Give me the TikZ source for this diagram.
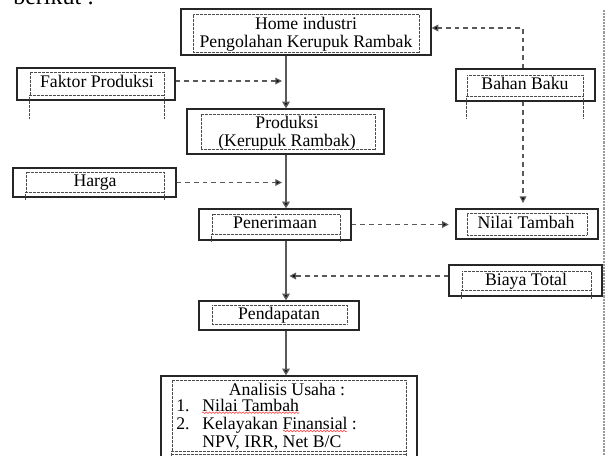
\documentclass[tikz,border=0pt]{standalone}
\usepackage{fontspec}
\setmainfont{Liberation Serif}
\usetikzlibrary{arrows.meta,fit,decorations.pathmorphing}
\begin{document}
\begin{tikzpicture}[x=0.75pt,y=-0.75pt,
  outerbox/.style={draw=black!85, line width=0.9pt, inner sep=0pt},
  innerbox/.style={draw=black!70, line width=0.5pt, dash pattern=on 0.5pt off 0.5pt, inner sep=0pt},
  dotline/.style={draw=black!70, line width=0.5pt, dash pattern=on 0.5pt off 0.5pt},
  txt/.style={font=\fontsize{13.3}{13.6}\selectfont, inner sep=0pt, align=center},
  ltxt/.style={txt, text height=9pt, text depth=2.5pt},
  mainarr/.style={draw=black!65, line width=1.1pt, -{Triangle[length=5pt,width=5.5pt,fill=black]}},
  dasharr/.style={draw=black!65, line width=0.9pt, dash pattern=on 3.5pt off 3pt, -{Triangle[length=5pt,width=5pt,fill=black]}},
  edgeline/.style={draw=black!40, line width=1.3pt, dash pattern=on 0.6pt off 0.5pt},
  spell/.style={draw=red!80, line width=0.4pt, decorate, decoration={snake, amplitude=0.6pt, segment length=2.5pt}}
]
\useasboundingbox (0,0) rectangle (605,455);
\clip (0,0) rectangle (605,455);

% clipped heading text (cut off at the top edge, as in the reference)
\node[anchor=base west, inner sep=0pt, font=\fontsize{18}{20}\selectfont] (berikut) at (13,4) {berikut :};

% right page edge
\coordinate (edgetop) at (604,10);
\coordinate (edgebot) at (604,455);
\draw[edgeline] (edgetop) -- (edgebot);

\coordinate (spine) at (286,0);

% Home industri
\node[outerbox, fit={(181,9) (431,55)}] (home) {};
\node[innerbox, fit={(193,14) (419,52)}] (homein) {};
\node[txt] (hometxt) at (306,34) {Home industri\\Pengolahan Kerupuk Rambak};

% Faktor Produksi
\node[outerbox, fit={(17,68) (175,100)}] (faktor) {};
\node[innerbox, fit={(30,72) (164,95)}] (faktorin) {};
\draw[dotline] (faktorin.south west) -- ++(0,23);
\draw[dotline] (faktorin.south east) -- ++(0,23);
\node[ltxt] (faktortxt) at (97,83) {Faktor Produksi};

% Bahan Baku
\node[outerbox, fit={(456,69) (595,101)}] (bahan) {};
\node[innerbox, fit={(467,75) (583,96)}] (bahanin) {};
\draw[dotline] (bahanin.south west) -- ++(0,22);
\draw[dotline] (bahanin.south east) -- ++(0,22);
\node[ltxt] (bahantxt) at (525,85) {Bahan Baku};

% Produksi
\node[outerbox, fit={(187,109) (384,154)}] (prod) {};
\node[innerbox, fit={(201,114) (375,149)}] (prodin) {};
\node[txt] (prodtxt) at (287,133) {Produksi\\(Kerupuk Rambak)};

% Harga
\node[outerbox, fit={(13,168) (176,197)}] (harga) {};
\node[innerbox, fit={(26,172) (164,192)}] (hargain) {};
\draw[dotline] (hargain.south west) -- ++(0,8);
\draw[dotline] (hargain.south east) -- ++(0,8);
\node[ltxt] (hargatxt) at (95,182) {Harga};

% Penerimaan
\node[outerbox, fit={(199,209) (351,240)}] (pen) {};
\node[innerbox, fit={(212,214) (340,234)}] (penin) {};
\draw[dotline] (penin.south west) -- ++(0,7);
\draw[dotline] (penin.south east) -- ++(0,7);
\node[ltxt] (pentxt) at (275,224) {Penerimaan};

% Nilai Tambah
\node[outerbox, fit={(456,209) (598,239)}] (nilai) {};
\node[innerbox, fit={(467,213) (587,235)}] (nilaiin) {};
\node[ltxt] (nilaitxt) at (526,224) {Nilai Tambah};

% Biaya Total
\node[outerbox, fit={(449,265) (602,296)}] (biaya) {};
\node[innerbox, fit={(462,271) (591,290)}] (biayain) {};
\draw[dotline] (biayain.south west) -- ++(0,9);
\draw[dotline] (biayain.south east) -- ++(0,9);
\node[ltxt] (biayatxt) at (526,281) {Biaya Total};

% Pendapatan
\node[outerbox, fit={(199,301) (359,330)}] (pend) {};
\node[innerbox, fit={(212,305) (347,324)}] (pendin) {};
\node[ltxt] (pendtxt) at (279,315) {Pendapatan};

% Analisis Usaha
\node[outerbox, fit={(161,376) (417,470)}] (anal) {};
\node[innerbox, fit={(172,380) (406,451)}] (analin) {};
\draw[dotline] (172,454) -- (406,454);
\draw[dotline] (analin.south west) -- ++(0,20);
\draw[dotline] (analin.south east) -- ++(0,20);
\node[ltxt] (an0) at (287,391) {Analisis Usaha :};
\node[ltxt, anchor=west] (an1n) at (176,407) {1.};
\node[ltxt, anchor=west] (an1) at (202,407) {Nilai Tambah};
\node[ltxt, anchor=west] (an2n) at (176,425) {2.};
\node[ltxt, anchor=west] (an2) at (202,425) {Kelayakan Finansial :};
\node[ltxt, anchor=west] (an3) at (202,443) {NPV, IRR, Net B/C};
\draw[spell] ([yshift=-1pt]an1.base west) -- ([yshift=-1pt]an1.base east);
\coordinate (finA) at (283,431);
\coordinate (finB) at (347,431);
\draw[spell] (finA) -- (finB);

% main flow
\draw[mainarr] (home.south -| spine) -- (prod.north -| spine);
\draw[mainarr] (prod.south -| spine) -- (pen.north -| spine);
\draw[mainarr] (pen.south -| spine) -- (pend.north -| spine);
\draw[mainarr] (pend.south -| spine) -- (anal.north -| spine);

% dashed inputs
\coordinate (fy) at (0,81);
\draw[dasharr, shorten >=3pt] (fy -| faktor.east) -- (fy -| spine);
\draw[dasharr, shorten >=3pt] (harga.east) -- (harga.east -| spine);
\draw[dasharr, shorten >=5pt] (pen.east) -- (pen.east -| nilai.west);
\coordinate (by) at (0,276);
\draw[dasharr, shorten >=2.5pt] (by -| biaya.west) -- (by -| spine);
\coordinate (turn) at (523,28);
\draw[dasharr] (bahan.north -| turn) -- (turn) -- (turn -| home.east);
\draw[dasharr, shorten >=4pt] (bahan.south -| turn) -- (nilai.north -| turn);
\end{tikzpicture}
\end{document}
